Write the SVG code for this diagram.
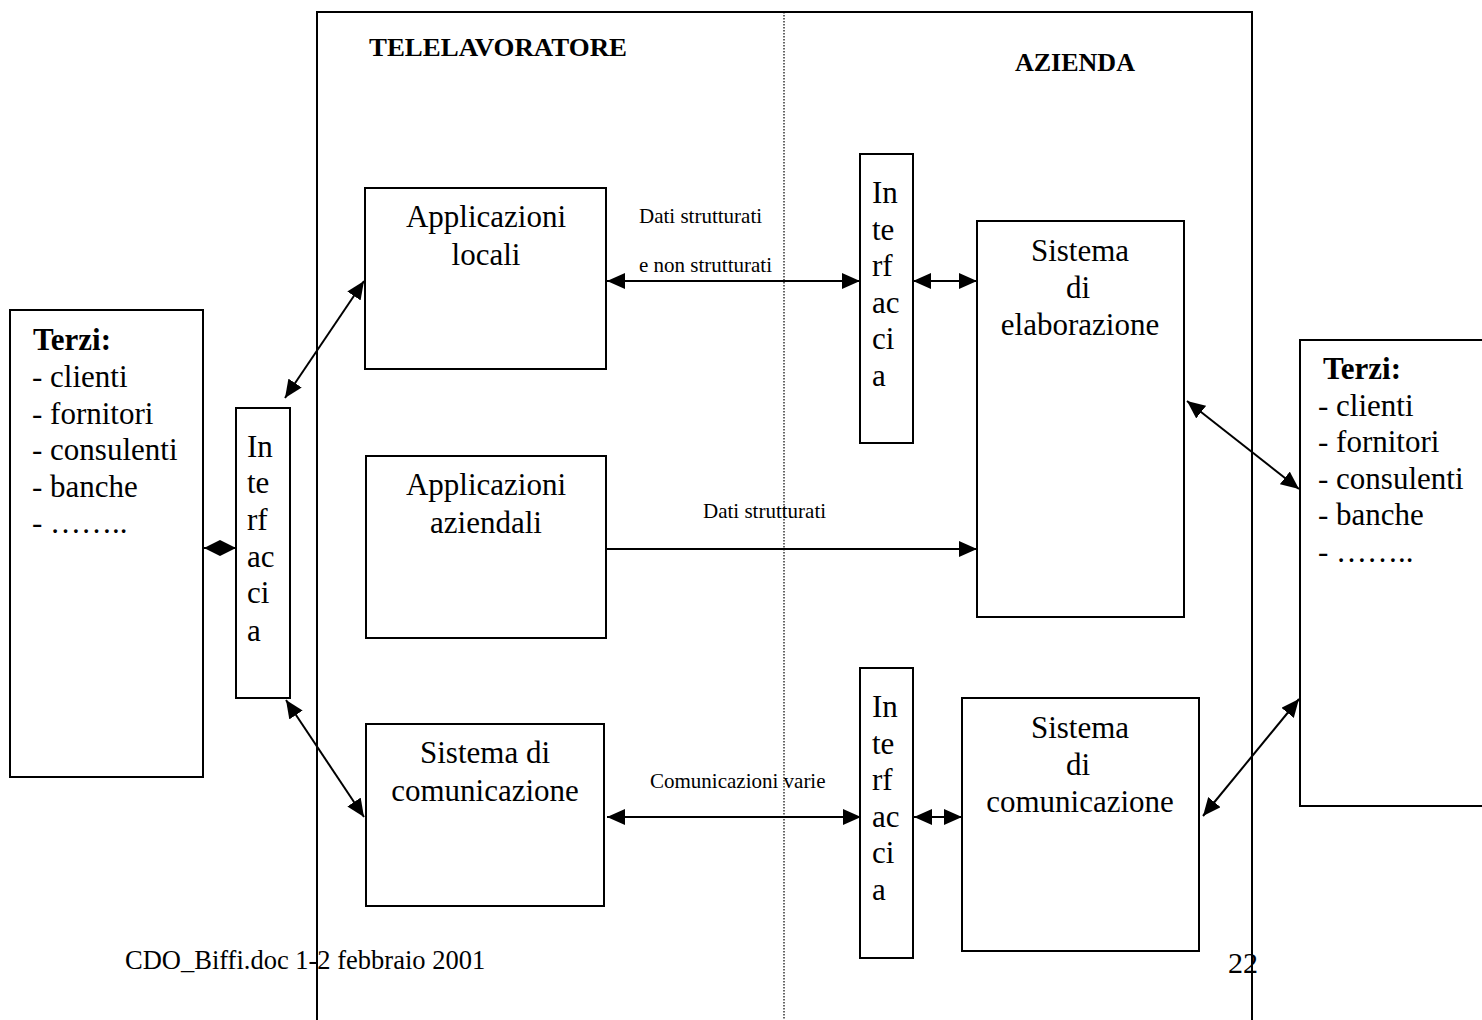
<svg xmlns="http://www.w3.org/2000/svg" width="1482" height="1020" viewBox="0 0 1482 1020" font-family="'Liberation Serif','Times New Roman',serif">
<defs>
<style>
.box{fill:#fff;stroke:#000;stroke-width:2}
.frame{fill:none;stroke:#000;stroke-width:2}
.dot{fill:none;stroke:#000;stroke-width:1.2;stroke-dasharray:1.5 1.5}
.t{font-family:"Liberation Serif","Times New Roman",serif;font-size:31px;fill:#000}
.c{text-anchor:middle}
.b{font-weight:bold}
.h{font-family:"Liberation Serif","Times New Roman",serif;font-size:26px;font-weight:bold;fill:#000}
.s{font-family:"Liberation Serif","Times New Roman",serif;font-size:21px;fill:#000}
.f{font-family:"Liberation Serif","Times New Roman",serif;font-size:26.5px;fill:#000}
.ln{stroke:#000;stroke-width:2;fill:none}
</style>
<marker id="ah" viewBox="0 0 18 16" refX="18" refY="8" markerWidth="18" markerHeight="16" markerUnits="userSpaceOnUse" orient="auto-start-reverse">
<path d="M0,0 L18,8 L0,16 z" fill="#000"/>
</marker>
<marker id="ahs" viewBox="0 0 16 16" refX="16" refY="8" markerWidth="16" markerHeight="16" markerUnits="userSpaceOnUse" orient="auto-start-reverse">
<path d="M0,0 L16,8 L0,16 z" fill="#000"/>
</marker>
</defs>
<rect width="1482" height="1020" fill="#fff"/>

<g id="frame">
<path class="frame" d="M317,1020 L317,12 L1252,12 L1252,1020"/>
<line class="dot" x1="784" y1="12" x2="784" y2="1020"/>
<text class="h" x="369" y="56" textLength="258" lengthAdjust="spacingAndGlyphs">TELELAVORATORE</text>
<text class="h" x="1015" y="71">AZIENDA</text>
</g>

<g id="terzi-left">
<rect class="box" x="10" y="310" width="193" height="467"/>
<text class="t b" x="33" y="350">Terzi:</text>
<text class="t" x="32" y="387">- clienti</text>
<text class="t" x="32" y="423.5">- fornitori</text>
<text class="t" x="32" y="460">- consulenti</text>
<text class="t" x="32" y="496.5">- banche</text>
<text class="t" x="32" y="533">- ……..</text>
</g>

<g id="interfaccia-left">
<rect class="box" x="236" y="408" width="54" height="290"/>
<text class="t" x="247" y="457">In</text>
<text class="t" x="247" y="493">te</text>
<text class="t" x="247" y="530">rf</text>
<text class="t" x="247" y="567">ac</text>
<text class="t" x="247" y="603">ci</text>
<text class="t" x="247" y="641">a</text>
</g>

<g id="applicazioni-locali">
<rect class="box" x="365" y="188" width="241" height="181"/>
<text class="t c" x="486" y="227">Applicazioni</text>
<text class="t c" x="486" y="265">locali</text>
</g>

<g id="applicazioni-aziendali">
<rect class="box" x="366" y="456" width="240" height="182"/>
<text class="t c" x="486" y="495">Applicazioni</text>
<text class="t c" x="486" y="533">aziendali</text>
</g>

<g id="sistema-comunicazione-left">
<rect class="box" x="366" y="724" width="238" height="182"/>
<text class="t c" x="485" y="763">Sistema di</text>
<text class="t c" x="485" y="801">comunicazione</text>
</g>

<g id="interfaccia-top">
<rect class="box" x="860" y="154" width="53" height="289"/>
<text class="t" x="872" y="203">In</text>
<text class="t" x="872" y="239.5">te</text>
<text class="t" x="872" y="276">rf</text>
<text class="t" x="872" y="312.5">ac</text>
<text class="t" x="872" y="349">ci</text>
<text class="t" x="872" y="386">a</text>
</g>

<g id="interfaccia-bottom">
<rect class="box" x="860" y="668" width="53" height="290"/>
<text class="t" x="872" y="717">In</text>
<text class="t" x="872" y="753.5">te</text>
<text class="t" x="872" y="790">rf</text>
<text class="t" x="872" y="826.5">ac</text>
<text class="t" x="872" y="863">ci</text>
<text class="t" x="872" y="900">a</text>
</g>

<g id="sistema-elaborazione">
<rect class="box" x="977" y="221" width="207" height="396"/>
<text class="t c" x="1080" y="261">Sistema</text>
<text class="t c" x="1078" y="298">di</text>
<text class="t c" x="1080" y="335">elaborazione</text>
</g>

<g id="sistema-comunicazione-right">
<rect class="box" x="962" y="698" width="237" height="253"/>
<text class="t c" x="1080" y="738">Sistema</text>
<text class="t c" x="1078" y="775">di</text>
<text class="t c" x="1080" y="812">comunicazione</text>
</g>

<g id="terzi-right">
<rect class="box" x="1300" y="340" width="190" height="466"/>
<text class="t b" x="1323" y="379">Terzi:</text>
<text class="t" x="1318" y="416">- clienti</text>
<text class="t" x="1318" y="452">- fornitori</text>
<text class="t" x="1318" y="489">- consulenti</text>
<text class="t" x="1318" y="525">- banche</text>
<text class="t" x="1318" y="562">- ……..</text>
</g>

<g id="connectors">
<line class="ln" x1="204" y1="548" x2="236" y2="548" marker-start="url(#ahs)" marker-end="url(#ahs)"/>
<line class="ln" x1="364" y1="281" x2="285" y2="398" marker-start="url(#ah)" marker-end="url(#ah)"/>
<line class="ln" x1="286" y1="700" x2="364" y2="817" marker-start="url(#ah)" marker-end="url(#ah)"/>
<line class="ln" x1="607" y1="281" x2="860" y2="281" marker-start="url(#ah)" marker-end="url(#ah)"/>
<line class="ln" x1="913" y1="281" x2="977" y2="281" marker-start="url(#ah)" marker-end="url(#ah)"/>
<line class="ln" x1="606" y1="549" x2="977" y2="549" marker-end="url(#ah)"/>
<line class="ln" x1="607" y1="817" x2="861" y2="817" marker-start="url(#ah)" marker-end="url(#ah)"/>
<line class="ln" x1="914" y1="817" x2="962" y2="817" marker-start="url(#ah)" marker-end="url(#ah)"/>
<line class="ln" x1="1187" y1="401" x2="1299" y2="489" marker-start="url(#ah)" marker-end="url(#ah)"/>
<line class="ln" x1="1203" y1="816" x2="1299" y2="699" marker-start="url(#ah)" marker-end="url(#ah)"/>
<text class="s" x="639" y="223">Dati strutturati</text>
<text class="s" x="639" y="272">e non strutturati</text>
<text class="s" x="703" y="518">Dati strutturati</text>
<text class="s" x="650" y="788">Comunicazioni varie</text>
</g>

<g id="footer">
<text class="f" x="125" y="969">CDO_Biffi.doc 1-2 febbraio 2001</text>
<text class="t" x="1228" y="973" style="font-size:30px">22</text>
</g>
</svg>
